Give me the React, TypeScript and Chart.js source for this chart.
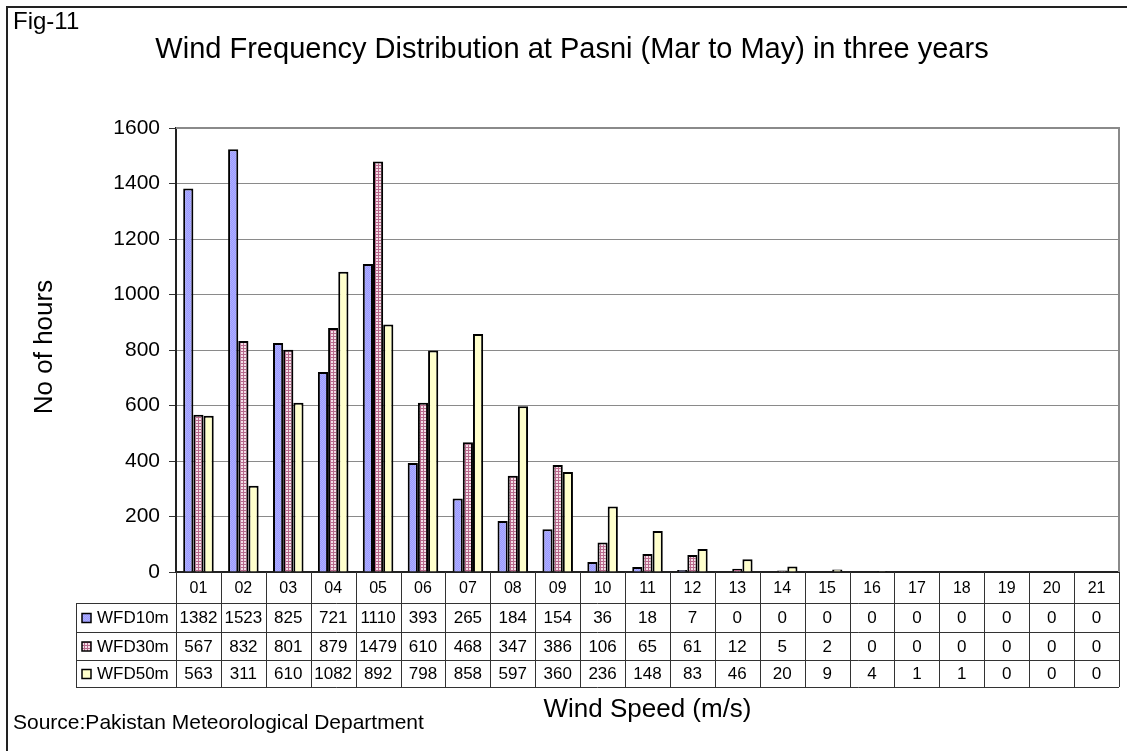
import React, { useEffect, useRef } from "react";
import { Chart, registerables } from "chart.js";

Chart.register(...registerables);

const categories = ["01","02","03","04","05","06","07","08","09","10","11","12","13","14","15","16","17","18","19","20","21"];
const seriesNames = ["WFD10m", "WFD30m", "WFD50m"];
const wfd10 = [1382,1523,825,721,1110,393,265,184,154,36,18,7,0,0,0,0,0,0,0,0,0];
const wfd30 = [567,832,801,879,1479,610,468,347,386,106,65,61,12,5,2,0,0,0,0,0,0];
const wfd50 = [563,311,610,1082,892,798,858,597,360,236,148,83,46,20,9,4,1,1,0,0,0];
const yMin = 0;
const yMax = 1600;
const yStep = 200;

const chartTitle = "Wind Frequency Distribution at Pasni (Mar to May) in three years";
const figLabel = "Fig-11";
const yTitle = "No of hours";
const xTitle = "Wind Speed (m/s)";
const sourceText = "Source:Pakistan Meteorological Department";

const FONT = '"Liberation Sans", Arial, sans-serif';

function makeBluePattern(): CanvasPattern | string {
  const c = document.createElement("canvas");
  c.width = 2; c.height = 2;
  const g = c.getContext("2d");
  if (!g) return "#9f9fff";
  g.fillStyle = "#9999ff"; g.fillRect(0, 0, 2, 2);
  g.fillStyle = "#b0b0ff"; g.fillRect(0, 0, 1, 1); g.fillRect(1, 1, 1, 1);
  return g.createPattern(c, "repeat") || "#9f9fff";
}

function makePinkPattern(): CanvasPattern | string {
  const c = document.createElement("canvas");
  c.width = 3; c.height = 3;
  const g = c.getContext("2d");
  if (!g) return "#d8a0b8";
  g.fillStyle = "#f4dfe8"; g.fillRect(0, 0, 3, 3);
  g.fillStyle = "#b8698c"; g.fillRect(0, 0, 3, 1); g.fillRect(0, 0, 1, 3);
  return g.createPattern(c, "repeat") || "#d8a0b8";
}

export default function App() {
  const ref = useRef<HTMLCanvasElement | null>(null);

  useEffect(() => {
    document.body.style.margin = "0";
    const canvas = ref.current;
    if (!canvas) return;
    const blue = makeBluePattern();
    const pink = makePinkPattern();
    const yellow = "#ffffcc";
    const fills = [blue, pink, yellow];
    const seriesData = [wfd10, wfd30, wfd50];

    const decor = {
      id: "decor",
      afterDraw(chart: any) {
        const ctx = chart.ctx as CanvasRenderingContext2D;
        const area = chart.chartArea;
        const xs = chart.scales.x;
        ctx.save();
        // outer frame
        ctx.strokeStyle = "#222";
        ctx.lineWidth = 2;
        ctx.beginPath();
        ctx.moveTo(1130, 7);
        ctx.lineTo(7, 7);
        ctx.lineTo(7, 760);
        ctx.stroke();

        // plot top/right border
        ctx.strokeStyle = "#8a8a8a";
        ctx.lineWidth = 2;
        ctx.beginPath();
        ctx.moveTo(area.left, area.top);
        ctx.lineTo(area.right, area.top);
        ctx.lineTo(area.right, area.bottom);
        ctx.stroke();

        ctx.fillStyle = "#000";
        ctx.textBaseline = "middle";
        // title
        ctx.font = `29px ${FONT}`;
        ctx.textAlign = "center";
        ctx.fillText(chartTitle, 572, 50);
        // fig label
        ctx.font = `24px ${FONT}`;
        ctx.textAlign = "left";
        ctx.fillText(figLabel, 13, 22);
        // y title
        ctx.save();
        ctx.translate(45, 347);
        ctx.rotate(-Math.PI / 2);
        ctx.font = `26px ${FONT}`;
        ctx.textAlign = "center";
        ctx.fillText(yTitle, 0, 0);
        ctx.restore();
        // x title
        ctx.font = `26px ${FONT}`;
        ctx.textAlign = "center";
        ctx.fillText(xTitle, (area.left + area.right) / 2, 710);
        // source
        ctx.font = `21px ${FONT}`;
        ctx.textAlign = "left";
        ctx.fillText(sourceText, 13, 723);

        // data table
        const n = categories.length;
        const colW = (xs.right - xs.left) / n;
        const rows = [area.bottom, area.bottom + 31, area.bottom + 60, area.bottom + 88, area.bottom + 115];
        const legendLeft = 76;
        ctx.strokeStyle = "#333";
        ctx.lineWidth = 1;
        ctx.beginPath();
        for (let i = 0; i <= n; i++) {
          const x = Math.round(xs.left + i * colW) + 0.5;
          ctx.moveTo(x, rows[0]);
          ctx.lineTo(x, rows[4]);
        }
        ctx.moveTo(legendLeft + 0.5, rows[1]);
        ctx.lineTo(legendLeft + 0.5, rows[4]);
        for (let r = 1; r <= 4; r++) {
          const y = Math.round(rows[r]) + 0.5;
          ctx.moveTo(legendLeft, y);
          ctx.lineTo(xs.right, y);
        }
        ctx.stroke();

        ctx.textAlign = "center";
        ctx.font = `16px ${FONT}`;
        ctx.fillStyle = "#000";
        for (let i = 0; i < n; i++) {
          const cx = xs.left + (i + 0.5) * colW;
          ctx.fillText(categories[i], cx, (rows[0] + rows[1]) / 2 + 1);
        }
        ctx.font = `17px ${FONT}`;
        for (let s = 0; s < 3; s++) {
          const cy = (rows[s + 1] + rows[s + 2]) / 2 + 1;
          // legend key
          ctx.fillStyle = fills[s] as any;
          ctx.fillRect(82, cy - 5, 9, 9);
          ctx.strokeStyle = "#000";
          ctx.lineWidth = 1.5;
          ctx.strokeRect(82, cy - 5, 9, 9);
          ctx.fillStyle = "#000";
          ctx.textAlign = "left";
          ctx.fillText(seriesNames[s], 97, cy);
          ctx.textAlign = "center";
          for (let i = 0; i < n; i++) {
            const cx = xs.left + (i + 0.5) * colW;
            ctx.fillText(String(seriesData[s][i]), cx, cy);
          }
        }
        ctx.restore();
      },
    };

    const chart = new Chart(canvas, {
      type: "bar",
      data: {
        labels: categories,
        datasets: seriesNames.map((name, s) => ({
          label: name,
          data: seriesData[s],
          backgroundColor: fills[s] as any,
          borderColor: "#000",
          borderWidth: 2,
          categoryPercentage: 0.68,
          barPercentage: 1.0,
        })),
      },
      options: {
        responsive: false,
        animation: false,
        layout: { padding: { left: 0, right: 8, top: 128, bottom: 0 } },
        plugins: {
          legend: { display: false },
          title: { display: false },
          tooltip: { enabled: false },
        },
        scales: {
          x: {
            ticks: { display: false },
            grid: { display: false, drawTicks: false },
            border: { display: true, color: "#222", width: 2 },
            afterFit: (scale: any) => { scale.height = 179; },
          },
          y: {
            min: yMin,
            max: yMax,
            ticks: {
              stepSize: yStep,
              color: "#000",
              padding: 9,
              font: { family: FONT, size: 21 },
              callback: (v: any) => String(v),
            },
            grid: { color: "#8a8a8a", lineWidth: 1, tickLength: 7, tickColor: "#333" },
            border: { display: true, color: "#222", width: 2 },
            afterFit: (scale: any) => { scale.width = 176; },
          },
        },
      },
      plugins: [decor],
    });
    return () => chart.destroy();
  }, []);

  return (
    <div style={{ position: "absolute", left: 0, top: 0, width: 1127, height: 751, background: "#fff" }}>
      <canvas ref={ref} width={1127} height={751} style={{ display: "block" }} />
    </div>
  );
}
